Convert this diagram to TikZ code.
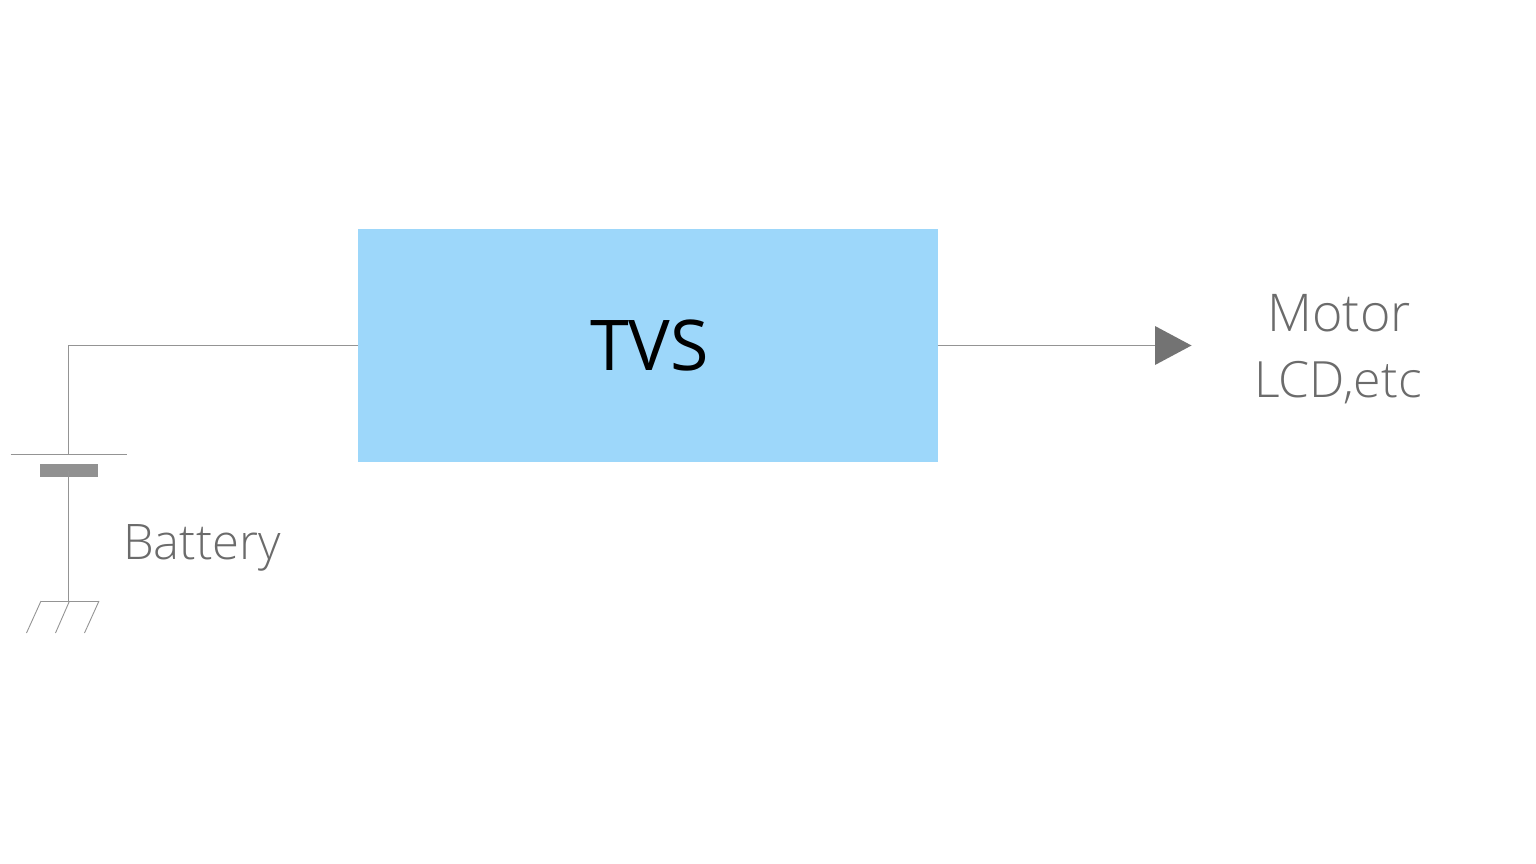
\documentclass[tikz,border=0pt]{standalone}
\usepackage{fontspec}
\setmainfont{Open Sans}
\newfontfamily\lightfont{Open Sans Light}
\begin{document}
\begin{tikzpicture}[x=1pt,y=-1pt,
  wire/.style={draw=black!42,line width=0.9pt},
  lbl/.style={text=black!58,anchor=base,inner sep=0pt},
  lblm/.style={lbl,font=\lightfont\fontsize{52}{52}\selectfont},
  lbll/.style={lbl,font=\lightfont\fontsize{50}{50}\selectfont},
  lblb/.style={lbl,font=\lightfont\fontsize{49}{49}\selectfont}]
\useasboundingbox (0,0) rectangle (1536,864);
\node[minimum width=579.5pt,minimum height=233pt,inner sep=0pt,fill={rgb,255:red,157;green,215;blue,250}] (tvs) at (647.75,345.5) {};
\node[anchor=base,inner sep=0pt,font=\fontsize{70}{70}\selectfont] (t) at (649.5,370) {TVS};
\coordinate (corner) at (68.5,345.5);
\coordinate (batt) at (68.5,454.5);
\coordinate (gnd) at (68.5,601);
\coordinate (plate) at (68.5,470.5);
\draw[wire] (tvs.west |- corner) -- (corner) -- (batt);
\draw[wire] (10.5,454.5) -- (127,454.5);
\fill[black!43] (39.5,464) rectangle (98,477);
\draw[wire] (plate) -- (gnd);
\draw[wire] (41,601) -- (99,601);
\draw[wire] (41,601) -- (26.5,633);
\draw[wire] (69.5,601) -- (55.5,633);
\draw[wire] (99,601) -- (84.5,633);
\coordinate (tipb) at (1155,345.5);
\draw[wire] (tvs.east |- tipb) -- (tipb);
\fill[black!55] (1155,326) -- (1191.5,345.5) -- (1155,365) -- cycle;
\node[lblm] (m) at (1339,331) {Motor};
\node[lbll] (l) at (1338,397) {LCD,etc};
\node[lblb] (b) at (202,559) {Battery};
\end{tikzpicture}
\end{document}
